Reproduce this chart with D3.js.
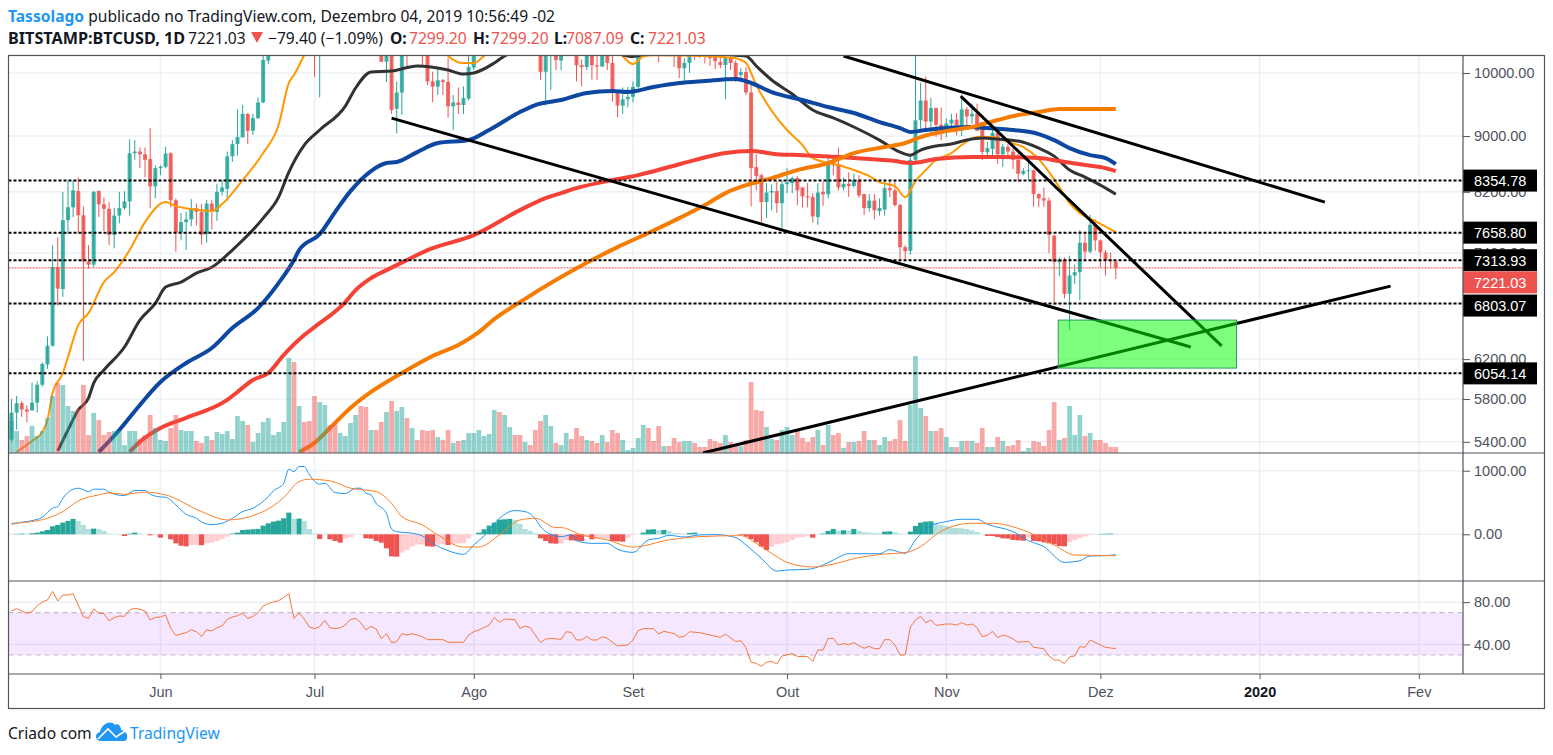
<!DOCTYPE html>
<html>
<head>
<meta charset="utf-8">
<script src="https://cdnjs.cloudflare.com/ajax/libs/d3/7.8.5/d3.min.js"></script>
<style>
    html, body { margin: 0; padding: 0; background: #fff; }
    svg { display: block; }
    text { font-family: 'Liberation Sans', Arial, sans-serif; }
    .head text { font-family: 'Noto Sans', sans-serif; font-size: 15.6px; fill: #131722; }
</style>
</head>
<body>
<svg></svg>
<script>
// daily candles, first one is 2019-05-03
const startDay = Date.UTC(2019, 4, 3);

const opens = [
    5420,5670,5760,5700,5690,5765,5940,6145,6340,7230,
    6970,7820,7990,8210,7885,7300,7260,8210,8030,7970,
    7630,7880,7980,8070,8745,8770,8730,8660,8275,8530,
    8550,8745,8085,7660,7795,7830,7975,7930,7640,8040,
    7930,8200,8240,8700,8880,8980,9340,9080,9275,9520,
    10210,10690,10830,11020,11740,13020,11180,12400,11900,10760,
    10590,10820,11980,11150,10980,11230,11480,12300,12570,12100,
    11340,11790,11360,10190,10860,9420,9680,10620,10520,10590,
    10500,10320,9860,9775,9880,9850,9460,9520,9480,9580,
    10090,10400,10530,10820,10980,11800,11460,11980,11990,11860,
    11290,11560,10860,10800,10020,10300,10350,10210,10340,10920,
    10760,10130,10100,10290,10130,10110,10350,10170,9700,9470,
    9570,9610,9770,10380,10620,10580,10570,10320,10490,10400,
    10320,10080,10170,10410,10370,10350,10300,10270,10185,10135,
    10270,10170,9967,10017,9680,8545,8430,8060,8190,8210,
    8045,8305,8320,8390,8260,8140,8130,7860,8200,8165,
    8610,8590,8260,8310,8280,8360,8170,7980,8080,7940,
    7960,8250,8220,8020,7475,7430,8650,9240,9550,9220,
    9430,9170,9080,9190,9250,9160,9410,9300,9340,9215,
    8760,8810,9050,8730,8840,8770,8650,8450,8490,8500,
    8170,8110,8080,7620,7290,7320,6915,7130,7170,7530,
    7420,7760,7560,7410,7320,7299.2
];
const highs = [
    5800,5830,5780,5740,5960,5975,6165,6440,7500,7600,
    8200,8360,8360,8400,8000,7500,8210,8220,8120,8060,
    7980,8200,8210,8950,8940,8830,8830,9120,8570,8570,
    8840,8760,8110,7915,7930,8100,8040,8035,8090,8090,
    8310,8360,8770,8940,9410,9480,9350,9340,9600,10300,
    10950,11200,11150,11800,13800,13450,12450,12400,12200,11200,
    10900,12000,12050,11450,11450,11600,12400,13100,13150,12100,
    11900,11850,11450,10900,11000,9860,10750,10750,10650,10720,
    10620,10350,10020,10080,9900,10250,9640,9760,9780,10290,
    10450,10650,10900,11100,11950,12300,12100,12150,12000,11950,
    11600,11580,11050,10850,10450,10500,10480,10480,10950,10950,
    10800,10230,10450,10400,10300,10650,10400,10290,9720,9760,
    9770,9860,10450,10790,10680,10650,10600,10520,10600,10480,
    10400,10250,10450,10450,10420,10400,10350,10300,10290,10400,
    10300,10210,10080,10100,9800,8730,8450,8320,8300,8345,
    8360,8530,8410,8420,8260,8320,8180,8320,8340,8720,
    8690,8830,8400,8470,8450,8430,8170,8170,8170,8110,
    8350,8345,8350,8040,7500,8700,10370,9840,9940,9590,
    9440,9440,9270,9340,9350,9620,9450,9500,9500,9215,
    8910,9150,9100,8880,8880,8820,8790,8530,8650,8510,
    8180,8260,8120,7630,7350,7350,7370,7260,7690,7640,
    7890,7830,7570,7440,7410,7299.2
];
const lows = [
    5400,5510,5630,5580,5690,5670,5920,6100,6330,6780,
    6880,7640,7860,7650,6180,7210,7230,7860,7680,7500,
    7460,7780,7960,7880,8650,8530,8400,7980,8110,8430,
    8530,7990,7420,7560,7440,7740,7750,7510,7530,7700,
    7810,8150,8080,8620,8710,8980,8880,9015,9260,9510,
    10150,10550,10800,11000,11650,10600,10820,11500,10700,9930,
    9600,10800,11050,10800,10950,11100,11450,12100,11600,11000,
    11100,11000,10180,9850,9340,9040,9330,10080,10320,10300,
    10100,9800,9520,9640,9640,9280,9090,9340,9340,9550,
    10050,10350,10450,10700,10950,11250,11400,11800,11100,11220,
    11200,10850,10700,9880,9470,9720,10050,10050,10290,10600,
    9860,9780,10050,9890,9880,10100,10050,9530,9290,9340,
    9440,9520,9750,10350,10400,10300,10180,10300,10280,10100,
    9915,9850,10000,10220,10250,10160,10120,10060,10080,9570,
    10050,9850,9880,9640,8000,8220,7790,7850,7950,7915,
    7720,8180,8180,8020,7990,7990,7790,7760,8010,8110,
    8430,8220,8220,8130,8260,8120,7890,7930,7830,7880,
    7880,8125,8000,7300,7300,7380,8600,9100,9060,9040,
    8990,8940,8980,9130,9010,9000,9130,9190,9080,8646,
    8700,8700,8590,8550,8700,8520,8340,8430,8360,8000,
    7990,8000,7400,6790,7120,6860,6510,7030,6840,7330,
    7400,7430,7230,7130,7210,7087.09
];
const closes = [
    5670,5760,5700,5680,5765,5940,6150,6340,7230,6975,
    7820,7990,8220,7885,7300,7260,8200,8030,7970,7630,
    7880,7980,8070,8745,8770,8730,8650,8275,8530,8550,
    8740,8085,7660,7795,7830,7975,7930,7630,8040,7930,
    8200,8260,8700,8880,8985,9340,9080,9275,9520,10220,
    10690,10830,11020,11740,13020,11180,12400,11900,10760,10590,
    10820,11980,11150,10980,11230,11480,12300,12570,12100,11340,
    11790,11360,10190,10860,9400,9680,10620,10520,10590,10500,
    10320,9860,9775,9880,9850,9460,9520,9480,9590,10100,
    10400,10530,10820,10980,11800,11460,11980,11990,11860,11290,
    11560,10860,10800,10020,10300,10350,10220,10340,10920,10760,
    10130,10100,10290,10130,10110,10350,10170,9700,9470,9570,
    9610,9770,10380,10620,10580,10570,10320,10490,10400,10320,
    10080,10170,10410,10370,10350,10300,10250,10200,10135,10270,
    10170,9930,10017,9680,8530,8420,8060,8190,8210,8045,
    8305,8330,8390,8220,8140,8125,7870,8190,8165,8610,
    8570,8260,8310,8280,8360,8150,7980,8080,7950,7980,
    8250,8220,8020,7475,7425,8650,9240,9550,9220,9430,
    9170,9080,9190,9250,9160,9410,9300,9340,9080,8765,
    8820,9050,8730,8840,8770,8650,8450,8490,8500,8170,
    8110,8080,7630,7290,7320,6915,7130,7170,7530,7420,
    7760,7560,7410,7315,7300,7221.03
];
const volumes = [
    32,22,13,17,27,17,22,35,57,70, 68,47,42,44,68,18,40,33,18,21,
    22,22,8,22,22,14,18,38,25,13, 12,25,38,23,22,22,12,10,17,13,
    21,19,22,14,37,32,28,11,20,31, 35,18,21,31,95,91,47,31,32,57,
    51,48,28,30,20,17,30,38,47,46, 23,23,31,41,52,42,46,35,25,13,
    23,22,23,16,13,23,10,12,13,20, 20,23,17,19,43,41,38,26,18,18,
    11,8,23,32,38,27,10,8,20,14, 25,17,13,12,10,18,11,23,20,13,
    3,5,15,28,25,12,27,7,7,15, 11,12,12,10,6,6,14,12,10,18,
    11,9,7,13,71,43,42,26,14,13, 23,26,18,22,15,11,16,23,8,28,
    18,20,5,11,11,12,22,13,13,8, 16,12,14,33,12,48,97,45,37,22,
    22,25,16,6,6,12,12,12,10,25, 6,6,16,12,7,8,13,2,5,12,
    11,7,23,51,13,15,47,18,38,17, 20,13,13,10,6,6
];

// moving averages as [day, price]
const maFast = [[1,5310],[4,5407],[6,5490],[7,5600],[8,5860],[10,6058],[11,6222],[13,6563],[15,6695],[18,7052],[20,7170],[23,7439],[26,7795],[30,8060],[32,8006],[35,7966],[39,7940],[41,8033],[45,8362],[49,8748],[52,9167],[54,9835],[55,9968],[57,10305],[60,10900],[70,11500],[80,11000],[85,10290],[88,10168],[90,10168],[92,10290],[100,11300],[110,10700],[118,10400],[119,10288],[121,10150],[123,10280],[125,10300],[135,10290],[140,10260],[141,10250],[143,10168],[145,9800],[147,9510],[149,9276],[151,9091],[154,8866],[156,8675],[161,8575],[164,8503],[167,8418],[169,8333],[172,8278],[174,8127],[176,8348],[178,8503],[180,8646],[183,8748],[185,8866],[188,8985],[191,8985],[194,8910],[197,8836],[200,8660],[202,8475],[204,8265],[206,8046],[208,7913],[211,7809],[215,7667]];
const maDark = [[9,5318],[11,5508],[13,5695],[15,5810],[16,5957],[18,6088],[22,6327],[25,6618],[28,6805],[30,6993],[33,7052],[36,7158],[39,7228],[43,7439],[49,7847],[52,8127],[54,8475],[57,8866],[60,9091],[65,9462],[67,9752],[70,10017],[74,10033],[79,10118],[85,10050],[88,9983],[90,10000],[94,10168],[96,10288],[100,10400],[110,10500],[118,10330],[121,10280],[125,10350],[135,10340],[141,10300],[143,10288],[145,10118],[148,9884],[152,9655],[156,9400],[160,9276],[164,9137],[169,8940],[173,8762],[175,8717],[177,8792],[180,8852],[183,8881],[186,8940],[189,8970],[192,8955],[196,8925],[200,8821],[203,8703],[206,8503],[209,8403],[212,8291],[215,8167]];
const maBlue = [[17,5309],[21,5508],[25,5743],[29,5967],[34,6160],[39,6316],[43,6530],[48,6752],[52,7040],[55,7316],[56,7439],[60,7640],[63,7927],[66,8209],[70,8489],[73,8603],[75,8618],[79,8762],[83,8895],[89,8940],[93,9091],[99,9369],[102,9479],[107,9558],[112,9671],[117,9703],[120,9687],[125,9769],[130,9834],[135,9867],[141,9900],[144,9834],[148,9687],[154,9558],[159,9447],[164,9354],[169,9213],[173,9121],[175,9061],[178,9091],[182,9121],[187,9137],[190,9121],[195,9091],[200,9030],[203,8940],[206,8821],[210,8717],[213,8675],[215,8589]];
const maRed = [[23,5309],[25,5400],[29,5526],[34,5620],[42,5791],[44,5869],[47,5987],[50,6058],[53,6243],[57,6454],[59,6541],[65,6820],[67,6958],[70,7099],[73,7194],[77,7316],[81,7439],[90,7627],[99,7953],[104,8114],[107,8182],[110,8250],[116,8348],[122,8432],[128,8546],[133,8646],[139,8748],[144,8777],[149,8732],[154,8717],[161,8689],[167,8660],[172,8632],[175,8603],[180,8660],[187,8689],[192,8689],[200,8675],[204,8632],[209,8575],[212,8546],[215,8489]];
const maSlow = [[56,5309],[59,5390],[62,5526],[66,5714],[70,5869],[76,6058],[82,6233],[87,6348],[91,6486],[94,6629],[99,6820],[113,7316],[118,7476],[124,7654],[130,7847],[135,8020],[139,8182],[143,8291],[148,8389],[153,8503],[159,8603],[164,8748],[170,8836],[174,8896],[177,8985],[182,9076],[187,9137],[192,9244],[196,9322],[200,9369],[204,9416],[215,9416]];

const levels = [8354.78, 7658.80, 7313.93, 6803.07, 6054.14];
const lastPrice = 7221.03;
const priceTicks = [10000, 9000, 8200, 7400, 6800, 6200, 5800, 5400];

// hand drawn trend lines [[day, price], [day, price]]
const trendLines = [
    [[162, 10288], [255.7, 8060]],
    [[74, 9274], [229.6, 6327]],
    [[184.8, 9622], [235.6, 6338]],
    [[134.6, 5300], [268.5, 7004]]
];
const targetBox = [[203.8, 6618], [238.5, 6108]];

const macdHist = [
    0,5,10,10,16,26,47,68,126,147, 184,210,242,210,147,84,89,84,53,10,
    5,0,-26,10,26,10,0,-16,-16,-53, -5,-79,-142,-179,-189,-168,-163,-173,-142,-131,
    -105,-74,-37,10,26,68,74,79,84,137, 173,200,215,252,341,242,247,210,84,10,
    -74,-5,-79,-105,-131,-74,-47,-5,-5,-63, -68,-105,-131,-221,-347,-352,-289,-247,-194,-163,
    -158,-189,-194,-163,-158,-168,-147,-142,-137,-63, -5,26,79,137,184,231,236,242,226,163,
    84,53,16,-63,-105,-142,-147,-142,-89,-95, -100,-105,-42,-79,-68,-63,-58,-105,-110,-116,
    -53,-10,0,26,74,79,63,68,53,21, 16,10,21,26,5,3,2,1,0,0,
    0,0,-10,-37,-74,-126,-194,-247,-194,-158, -142,-126,-89,-53,-47,-21,-53,0,10,53,
    84,58,63,58,84,58,32,26,21,16, 42,47,32,10,0,42,131,184,200,205,
    173,147,131,105,100,95,84,63,37,0, -26,-28,-42,-63,-68,-89,-95,-100,-53,-105,
    -110,-126,-142,-158,-184,-189,-126,-89,-63,-37, -10,0,5,8,10,5
];
const macdLine = [[0,158],[2,189],[4,215],[6,268],[8,410],[9,436],[10,567],[12,709],[13,725],[15,672],[16,709],[18,709],[19,662],[22,609],[24,688],[26,688],[27,630],[29,588],[30,583],[32,462],[34,315],[36,252],[37,194],[39,152],[41,173],[43,252],[45,357],[47,410],[50,593],[51,683],[53,803],[54,1024],[55,987],[56,1066],[57,1066],[58,935],[60,788],[61,803],[63,656],[65,641],[67,725],[68,725],[69,646],[70,620],[71,488],[73,331],[74,84],[75,42],[78,16],[80,-26],[82,-142],[85,-257],[88,-315],[90,-168],[92,-26],[95,252],[98,373],[100,357],[102,242],[103,121],[106,-26],[107,-37],[109,-10],[110,-100],[113,-142],[116,-142],[118,-236],[121,-284],[124,-89],[126,-63],[128,-16],[131,-42],[134,-10],[137,-5],[141,-52],[143,-168],[146,-378],[149,-578],[151,-562],[155,-551],[158,-483],[160,-404],[163,-305],[169,-305],[171,-242],[174,-299],[176,-89],[179,137],[182,200],[185,236],[188,236],[190,158],[195,42],[198,-100],[201,-194],[205,-441],[208,-415],[210,-341],[213,-336],[215,-320]];
const macdSignal = [[0,173],[4,200],[7,252],[10,357],[13,525],[17,620],[19,651],[22,630],[26,662],[30,620],[37,357],[42,226],[49,357],[53,578],[56,830],[58,866],[62,840],[66,725],[71,672],[74,488],[76,278],[80,147],[83,-10],[88,-200],[91,-200],[95,-10],[99,226],[102,252],[106,105],[107,105],[111,-10],[116,-89],[121,-200],[128,-89],[134,-37],[142,-21],[145,-142],[149,-352],[151,-441],[156,-514],[166,-352],[170,-310],[174,-289],[177,-194],[181,52],[187,173],[191,173],[198,32],[203,-168],[207,-325],[215,-336]];

const rsi = [[0,71.6],[1,73.8],[3,69.4],[4,70.9],[5,76.6],[6,80.1],[7,82],[8,90.2],[9,81],[10,86.7],[11,86.7],[12,88],[13,77.2],[14,66.2],[15,64.6],[16,73.5],[17,69.4],[18,69.1],[19,62.4],[20,65.3],[21,66.9],[22,66.5],[23,72.8],[24,74.1],[25,73.2],[26,71.6],[27,63.1],[28,65.6],[29,65.9],[30,67.8],[31,55.2],[32,48.6],[33,49.8],[34,51.1],[35,53.9],[36,52],[37,47.6],[38,53.9],[39,52.7],[40,55.8],[41,57.4],[42,63.7],[43,65.9],[44,67.2],[45,69.7],[46,64.3],[47,66.5],[48,70],[49,76.3],[50,78.8],[51,80.1],[52,81.3],[53,84.5],[54,88],[55,64.6],[56,69.7],[57,64],[58,56.5],[59,54.9],[60,56.8],[61,62.8],[62,55.8],[63,54.9],[64,55.8],[65,58.3],[66,63.7],[67,64.6],[68,60.6],[69,53.6],[70,57.1],[71,54.6],[72,45.4],[73,50.2],[74,41.7],[75,42.6],[76,50.2],[77,48.9],[78,50.2],[79,48.9],[80,47.3],[81,44.5],[84,44.5],[85,42],[88,42],[89,48.9],[90,52],[91,53.6],[93,58.3],[94,65.6],[95,60.9],[96,64],[98,63.4],[99,55.2],[100,57.4],[101,55.8],[103,41.7],[104,45.1],[105,45.7],[107,44.8],[108,52],[109,51.4],[110,44.2],[111,44.2],[112,47.6],[113,44.2],[114,44.2],[115,47.3],[116,45.7],[118,38.5],[120,39.4],[121,44.2],[122,53],[123,54.9],[125,54.9],[126,49.8],[127,52.4],[129,50.2],[130,46.7],[131,47.6],[132,52],[134,51.1],[138,46.7],[139,49.8],[141,42.6],[142,43.5],[143,36.9],[144,23.1],[145,22.1],[146,19.3],[147,23.1],[148,24],[149,21.5],[150,29],[152,31.3],[153,28.7],[155,28.4],[156,24],[157,34.7],[158,34.7],[159,45.7],[160,45.7],[161,39.4],[162,40.7],[163,39.8],[164,41.7],[165,38.8],[166,36.3],[167,38.2],[168,36],[169,36],[170,44.5],[171,44.5],[172,39.4],[173,30],[174,30],[175,56.5],[176,63.1],[177,66.5],[178,60.6],[179,63.1],[180,58],[182,59.3],[183,59.3],[184,58.3],[185,60.6],[186,58.3],[187,59.3],[188,55.8],[189,47.3],[190,48.6],[191,52.4],[192,46.4],[193,48.9],[194,47.6],[195,45.1],[196,42],[197,42.6],[198,42.9],[199,37.2],[201,36],[202,29],[203,25.3],[204,25],[205,21.8],[206,28.1],[207,29],[208,37.9],[209,37.2],[210,44.2],[213,37.2],[215,36]];

const timeTicks = [
    [Date.UTC(2019, 5, 1), 'Jun'], [Date.UTC(2019, 6, 1), 'Jul'], [Date.UTC(2019, 7, 1), 'Ago'],
    [Date.UTC(2019, 8, 1), 'Set'], [Date.UTC(2019, 9, 1), 'Out'], [Date.UTC(2019, 10, 1), 'Nov'],
    [Date.UTC(2019, 11, 1), 'Dez'], [Date.UTC(2020, 0, 1), '2020'], [Date.UTC(2020, 1, 1), 'Fev']
];
const macdTicks = [1000, 0];
const rsiTicks = [80, 40];

const width = 1553;
const height = 755;
const paneLeft = 8.5;
const axisX = 1463;
const paneRight = 1544.5;
const paneTop = 55.5;
const mainBottom = 453;
const macdBottom = 581;
const rsiBottom = 674;
const frameBottom = 708.5;

const green = '#26a69a';
const red = '#ef5350';
const ink = '#50535e';
const gridColor = '#ecf1f7';

const dayMs = 86400000;
const toDate = d => new Date(startDay + d * dayMs);

const xScale = d3.scaleUtc()
    .domain([toDate(-0.584), toDate(282.6)])
    .range([paneLeft, axisX]);
const yScale = d3.scaleLog().domain([10288, 5300]).range([56, mainBottom]);
const volScale = d3.scaleLinear().domain([0, 100]).range([mainBottom, mainBottom - 100]);
const macdScale = d3.scaleLinear().domain([1000, 0]).range([470.7, 534.3]);
const rsiScale = d3.scaleLinear().domain([100, 12]).range([macdBottom, rsiBottom]);

const svg = d3.select('svg').attr('width', width).attr('height', height);
const defs = svg.append('defs');

function addClip (id, y0, y1) {
    defs.append('clipPath').attr('id', id).append('rect')
        .attr('x', paneLeft).attr('y', y0).attr('width', axisX - paneLeft).attr('height', y1 - y0);
}
addClip('clip-main', paneTop, mainBottom);
addClip('clip-macd', mainBottom, macdBottom);
addClip('clip-rsi', macdBottom, rsiBottom);

function drawHeader () {
    const head = svg.append('g').attr('class', 'head');
    const line1 = head.append('text').attr('x', 8).attr('y', 22);
    line1.append('tspan').attr('font-weight', 700).style('fill', '#2196f3').text('Tassolago');
    line1.append('tspan').text(' publicado no TradingView.com, Dezembro 04, 2019 10:56:49 -02');

    const parts = [
        [8, 'BITSTAMP:BTCUSD, 1D', 700, '#131722', 16.2],
        [188, '7221.03', 400, '#131722', 15.6],
        [268, '\u221279.40 (\u22121.09%)', 400, '#131722', 15.6],
        [390, 'O:', 700, '#131722', 15.6],
        [409, '7299.20', 400, red, 15.6],
        [473, 'H:', 700, '#131722', 15.6],
        [491, '7299.20', 400, red, 15.6],
        [554, 'L:', 700, '#131722', 15.6],
        [566, '7087.09', 400, red, 15.6],
        [630, 'C:', 700, '#131722', 15.6],
        [648, '7221.03', 400, red, 15.6]
    ];
    head.selectAll('text.part').data(parts).enter().append('text')
        .attr('class', 'part')
        .attr('x', d => d[0]).attr('y', 44)
        .attr('font-weight', d => d[2])
        .style('fill', d => d[3])
        .style('font-size', d => d[4] + 'px')
        .text(d => d[1]);
    head.append('path').attr('d', 'M251 32H263L257 43Z').attr('fill', red);
}

function drawGrid () {
    const g = svg.append('g').attr('stroke', gridColor).attr('stroke-width', 1.5);
    g.selectAll('.v').data(timeTicks).enter().append('line')
        .attr('x1', d => xScale(d[0])).attr('x2', d => xScale(d[0]))
        .attr('y1', paneTop).attr('y2', rsiBottom);
    g.selectAll('.p').data(priceTicks).enter().append('line')
        .attr('x1', paneLeft).attr('x2', axisX)
        .attr('y1', d => yScale(d)).attr('y2', d => yScale(d));
    g.selectAll('.m').data(macdTicks).enter().append('line')
        .attr('x1', paneLeft).attr('x2', axisX)
        .attr('y1', d => macdScale(d)).attr('y2', d => macdScale(d));
    g.selectAll('.r').data(rsiTicks).enter().append('line')
        .attr('x1', paneLeft).attr('x2', axisX)
        .attr('y1', d => rsiScale(d)).attr('y2', d => rsiScale(d));
}

function drawCandles () {
    const g = svg.append('g').attr('clip-path', 'url(#clip-main)');
    const color = i => closes[i] >= opens[i] ? green : red;
    const candles = g.selectAll('.c').data(opens).enter().append('g');
    candles.append('line')
        .attr('x1', (d, i) => xScale(toDate(i))).attr('x2', (d, i) => xScale(toDate(i)))
        .attr('y1', (d, i) => yScale(highs[i])).attr('y2', (d, i) => yScale(lows[i]))
        .attr('stroke', (d, i) => color(i)).attr('stroke-width', 1);
    candles.append('rect')
        .attr('x', (d, i) => xScale(toDate(i)) - 2)
        .attr('width', 4)
        .attr('y', (d, i) => yScale(Math.max(opens[i], closes[i])))
        .attr('height', (d, i) => Math.max(1, Math.abs(yScale(opens[i]) - yScale(closes[i]))))
        .attr('fill', (d, i) => color(i)).attr('fill-opacity', 0.85);
}

function drawMovingAverages () {
    const line = d3.line()
        .curve(d3.curveMonotoneX)
        .x(d => xScale(toDate(d[0])))
        .y(d => yScale(d[1]));
    const series = [
        [maFast, '#ff9800', 2],
        [maDark, '#323232', 3],
        [maBlue, '#0d47a1', 4],
        [maRed, '#f44336', 4],
        [maSlow, '#f57c00', 4]
    ];
    const g = svg.append('g').attr('clip-path', 'url(#clip-main)');
    g.selectAll('path').data(series).enter().append('path')
        .attr('d', d => line(d[0]))
        .attr('fill', 'none')
        .attr('stroke', d => d[1])
        .attr('stroke-width', d => d[2])
        .attr('stroke-linejoin', 'round');
}

function drawVolume () {
    const g = svg.append('g').attr('clip-path', 'url(#clip-main)');
    const barW = xScale(toDate(1)) - xScale(toDate(0));
    g.selectAll('rect').data(volumes).enter().append('rect')
        .attr('x', (d, i) => xScale(toDate(i)) - barW / 2 + 0.2)
        .attr('width', barW - 0.4)
        .attr('y', d => volScale(d))
        .attr('height', d => mainBottom - volScale(d))
        .attr('fill', (d, i) => closes[i] >= opens[i] ? green : red)
        .attr('fill-opacity', 0.5);
}

function drawDrawings () {
    const g = svg.append('g').attr('clip-path', 'url(#clip-main)');
    g.selectAll('.lvl').data(levels).enter().append('line')
        .attr('x1', paneLeft).attr('x2', axisX)
        .attr('y1', d => yScale(d)).attr('y2', d => yScale(d))
        .attr('stroke', '#000').attr('stroke-width', 2)
        .attr('stroke-dasharray', '3 2');
    g.append('line')
        .attr('x1', paneLeft).attr('x2', axisX)
        .attr('y1', yScale(lastPrice)).attr('y2', yScale(lastPrice))
        .attr('stroke', red).attr('stroke-width', 1)
        .attr('stroke-dasharray', '2 1');
    g.selectAll('.tl').data(trendLines).enter().append('line')
        .attr('x1', d => xScale(toDate(d[0][0]))).attr('y1', d => yScale(d[0][1]))
        .attr('x2', d => xScale(toDate(d[1][0]))).attr('y2', d => yScale(d[1][1]))
        .attr('stroke', '#000').attr('stroke-width', 3);
    g.append('rect')
        .attr('x', xScale(toDate(targetBox[0][0])))
        .attr('y', yScale(targetBox[0][1]))
        .attr('width', xScale(toDate(targetBox[1][0])) - xScale(toDate(targetBox[0][0])))
        .attr('height', yScale(targetBox[1][1]) - yScale(targetBox[0][1]))
        .attr('fill', '#00ff00').attr('fill-opacity', 0.5)
        .attr('stroke', '#2e9a5a').attr('stroke-width', 1);
}

function drawMacd () {
    const g = svg.append('g').attr('clip-path', 'url(#clip-macd)');
    const barW = xScale(toDate(1)) - xScale(toDate(0));
    const zero = macdScale(0);
    const histColor = (d, i) => {
        const prev = i > 0 ? macdHist[i - 1] : 0;
        if (d >= 0) return d > prev ? green : '#b2dfdb';
        return d < prev ? red : '#ffcdd2';
    };
    g.selectAll('rect').data(macdHist).enter().append('rect')
        .attr('x', (d, i) => xScale(toDate(i)) - barW / 2)
        .attr('width', barW)
        .attr('y', d => Math.min(macdScale(d), zero))
        .attr('height', d => Math.abs(macdScale(d) - zero))
        .attr('fill', histColor);
    const line = d3.line()
        .curve(d3.curveMonotoneX)
        .x(d => xScale(toDate(d[0])))
        .y(d => macdScale(d[1]));
    g.append('path').attr('d', line(macdLine)).attr('fill', 'none').attr('stroke', '#2196f3');
    g.append('path').attr('d', line(macdSignal)).attr('fill', 'none').attr('stroke', '#ff7f27');
}

function drawRsi () {
    const g = svg.append('g').attr('clip-path', 'url(#clip-rsi)');
    g.append('rect')
        .attr('x', paneLeft).attr('width', axisX - paneLeft)
        .attr('y', rsiScale(70)).attr('height', rsiScale(30) - rsiScale(70))
        .attr('fill', '#9915ff').attr('fill-opacity', 0.1);
    g.selectAll('.b').data([70, 30]).enter().append('line')
        .attr('x1', paneLeft).attr('x2', axisX)
        .attr('y1', d => rsiScale(d)).attr('y2', d => rsiScale(d))
        .attr('stroke', '#c3bcc9').attr('stroke-width', 1.2)
        .attr('stroke-dasharray', '5 4');
    const line = d3.line()
        .x(d => xScale(toDate(d[0])))
        .y(d => rsiScale(d[1]));
    g.append('path').attr('d', line(rsi)).attr('fill', 'none').attr('stroke', '#f5773a');
}

function priceAxis (scale, ticks) {
    const axis = d3.axisRight(scale)
        .tickValues(ticks)
        .tickSize(7)
        .tickPadding(4)
        .tickFormat(d3.format('.2f'));
    const g = svg.append('g')
        .attr('transform', 'translate(' + axisX + ',0)')
        .call(axis);
    g.select('.domain').remove();
    g.selectAll('line').attr('stroke', ink);
    g.selectAll('text')
        .attr('fill', ink)
        .style('font-size', '14.5px');
}

function drawAxes () {
    priceAxis(yScale, priceTicks);
    priceAxis(macdScale, macdTicks);
    priceAxis(rsiScale, rsiTicks);

    const axis = d3.axisBottom(xScale)
        .tickValues(timeTicks.map(d => new Date(d[0])))
        .tickSize(5)
        .tickPadding(8)
        .tickFormat((d, i) => timeTicks[i][1]);
    const g = svg.append('g')
        .attr('transform', 'translate(0,' + rsiBottom + ')')
        .call(axis);
    g.select('.domain').remove();
    g.selectAll('line').attr('stroke', ink);
    g.selectAll('text')
        .attr('fill', d => d.getUTCFullYear() === 2020 && d.getUTCMonth() === 0 ? '#131722' : ink)
        .attr('font-weight', d => d.getUTCFullYear() === 2020 && d.getUTCMonth() === 0 ? 700 : 400)
        .style('font-size', '14.5px');
}

function drawTags () {
    // tags that would overlap get pushed down, like the real price scale does
    const tags = [
        [levels[0], '#000', 0],
        [levels[1], '#000', 0],
        [levels[2], '#000', 0],
        [lastPrice, red, 14.5],
        [levels[3], '#000', 2],
        [levels[4], '#000', 0]
    ];
    const g = svg.selectAll('.tag').data(tags).enter().append('g')
        .attr('transform', d => 'translate(' + axisX + ',' + (yScale(d[0]) + d[2]) + ')');
    g.append('rect')
        .attr('x', 0).attr('y', -11).attr('width', 74).attr('height', 22)
        .attr('fill', d => d[1]);
    g.append('text')
        .attr('x', 11).attr('y', 5.5)
        .attr('fill', '#fff')
        .style('font-size', '14.5px')
        .text(d => d[0].toFixed(2));
}

function drawFrame () {
    const g = svg.append('g').attr('stroke', ink).attr('stroke-width', 1.2).attr('fill', 'none');
    g.append('rect').attr('x', paneLeft).attr('y', paneTop)
        .attr('width', paneRight - paneLeft).attr('height', frameBottom - paneTop);
    g.append('line').attr('x1', axisX).attr('x2', axisX).attr('y1', paneTop).attr('y2', rsiBottom);
    [mainBottom, macdBottom, rsiBottom].forEach(y => {
        g.append('line').attr('x1', paneLeft).attr('x2', paneRight).attr('y1', y).attr('y2', y);
    });
}

function drawFooter () {
    const font = "'Noto Sans', sans-serif";
    svg.append('text').attr('x', 8).attr('y', 739)
        .style('font-family', font).style('font-size', '15.6px').attr('fill', '#131722')
        .text('Criado com');
    svg.append('path')
        .attr('d', 'M101 741C95 741 94 733 100 732C101 725 110 719 115 725C118 723 121 726 121 730C126 730 130 737 125 741Z')
        .attr('fill', '#2196f3');
    svg.append('path')
        .attr('d', 'M98 739L108 729L116 737L125 731')
        .attr('fill', 'none').attr('stroke', '#fff').attr('stroke-width', 1.6);
    svg.append('text').attr('x', 130).attr('y', 739)
        .style('font-family', font).style('font-size', '15.6px').attr('fill', '#2196f3')
        .text('TradingView');
}

drawHeader();
drawGrid();
drawCandles();
drawMovingAverages();
drawVolume();
drawDrawings();
drawMacd();
drawRsi();
drawAxes();
drawTags();
drawFrame();
drawFooter();
</script>
</body>
</html>
